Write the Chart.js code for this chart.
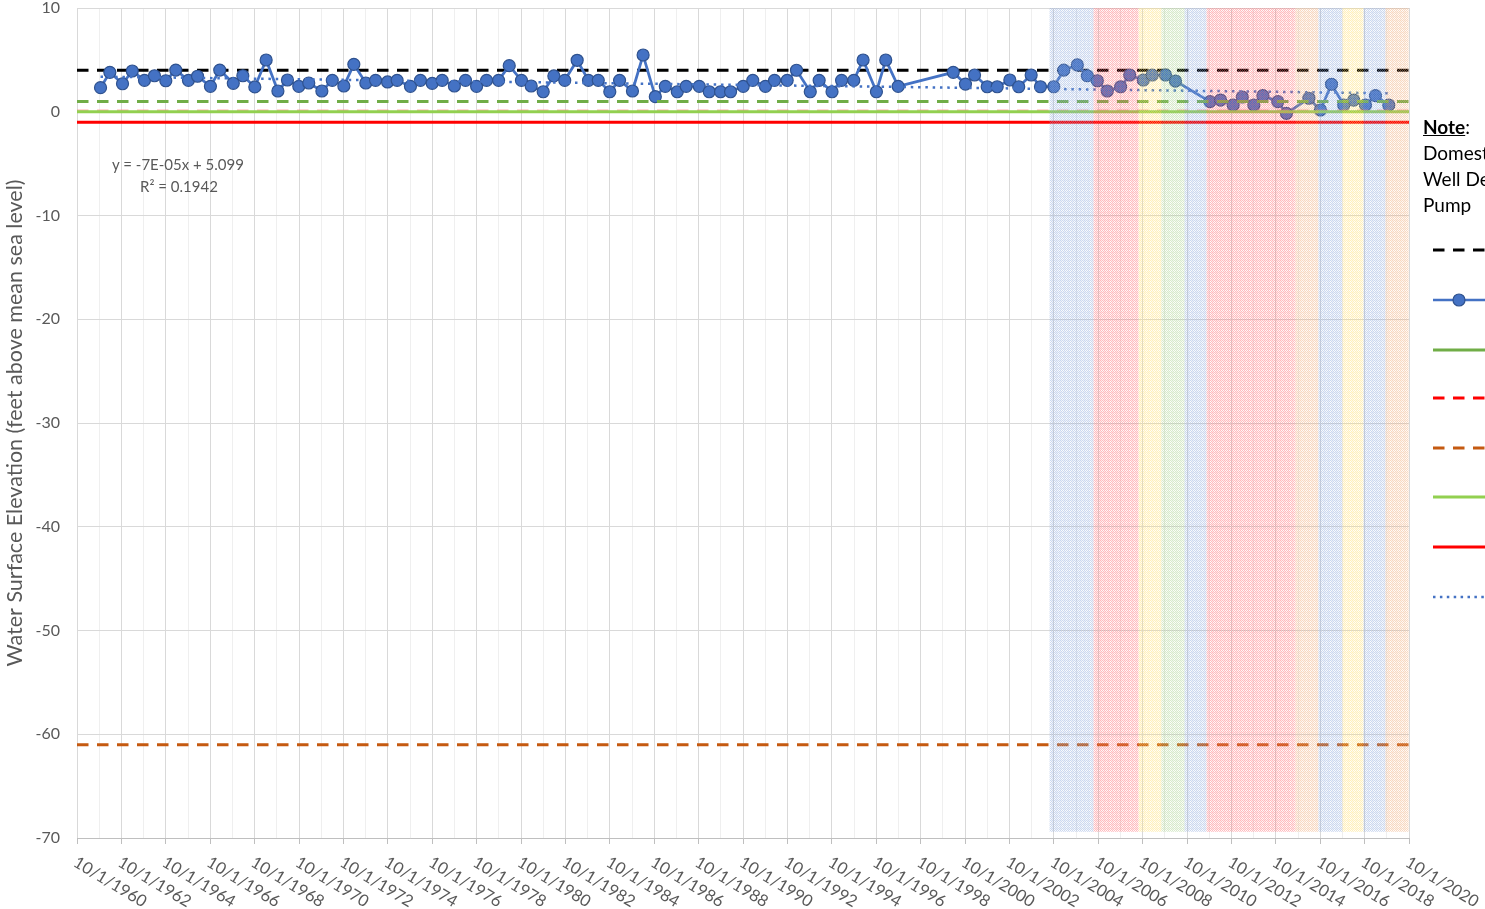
<!DOCTYPE html>
<html><head><meta charset="utf-8">
<script src="https://cdn.jsdelivr.net/npm/chart.js@4.4.1/dist/chart.umd.min.js"></script>
<style>
html,body{margin:0;padding:0;background:#fff;overflow:hidden;}
#wrap{position:relative;width:1485px;height:909px;overflow:hidden;background:#fff;}
#c{position:absolute;left:0;top:0;}
.t{position:absolute;font-family:Lato,'Liberation Sans',sans-serif;color:#595959;white-space:nowrap;font-size:15px;transform:translateX(-50%);}
.note{position:absolute;left:1423px;font-family:Lato,'Liberation Sans',sans-serif;color:#000;font-size:19px;white-space:nowrap;line-height:26px;}
</style></head><body>
<div id="wrap">
<canvas id="c" width="1485" height="909"></canvas>
<div class="t" style="left:178px;top:155px;">y = -7E-05x + 5.099</div>
<div class="t" style="left:179px;top:177px;">R² = 0.1942</div>
<div class="note" style="top:114px;"><b><u>Note</u></b>:</div>
<div class="note" style="top:140px;">Domestic</div>
<div class="note" style="top:166px;">Well Depth</div>
<div class="note" style="top:192px;">Pump</div>
</div>
<script>
// ---------------- DATA ----------------
const sampleYears = [
1961.81,1962.23,1962.80,1963.24,1963.79,1964.24,1964.75,1965.20,1965.77,1966.18,
1966.76,1967.18,1967.79,1968.22,1968.76,1969.27,1969.80,1970.23,1970.74,1971.19,
1971.78,1972.25,1972.77,1973.22,1973.76,1974.20,1974.74,1975.17,1975.77,1976.22,
1976.75,1977.20,1977.75,1978.25,1978.75,1979.20,1979.74,1980.22,1980.77,1981.21,
1981.75,1982.23,1982.72,1983.28,1983.79,1984.23,1984.75,1985.19,1985.77,1986.25,
1986.80,1987.25,1987.79,1988.19,1988.78,1989.23,1989.74,1990.19,1990.76,1991.19,
1991.76,1992.17,1992.74,1993.16,1993.78,1994.18,1994.76,1995.19,1995.74,1996.16,
1996.76,1997.18,1997.74,2000.22,2000.77,2001.18,2001.75,2002.20,2002.77,2003.17,
2003.73,2004.15,2004.75,2005.20,2005.81,2006.26,2006.71,2007.16,2007.76,2008.17,
2008.78,2009.18,2009.78,2010.23,2011.78,2012.26,2012.83,2013.24,2013.76,2014.17,
2014.84,2015.23,2016.24,2016.76,2017.26,2017.81,2018.26,2018.79,2019.24,2019.84];
const waterLevels = [
2.32,3.80,2.70,3.93,3.03,3.47,2.99,4.02,3.03,3.42,
2.45,4.02,2.74,3.47,2.39,4.99,2.00,3.06,2.45,2.77,
2.00,3.03,2.48,4.57,2.77,3.03,2.87,3.03,2.45,3.03,
2.74,3.03,2.48,3.03,2.45,3.03,3.03,4.44,3.03,2.48,
1.93,3.45,3.03,4.96,3.03,3.03,1.93,3.03,2.00,5.47,
1.45,2.45,1.93,2.45,2.45,1.93,1.93,1.93,2.45,3.03,
2.45,3.03,3.03,4.00,1.93,3.03,1.93,3.03,3.03,4.99,
1.93,4.99,2.45,3.80,2.67,3.54,2.41,2.41,3.06,2.41,
3.54,2.41,2.41,4.02,4.51,3.47,2.99,2.00,2.41,3.54,
3.06,3.54,3.54,2.96,0.97,1.13,0.65,1.42,0.65,1.55,
0.97,-0.15,1.30,0.17,2.65,0.65,1.13,0.65,1.55,0.65];
const trendYears = [1961.81, 2019.84];
const trendValues = [3.38, 1.78];
const refLevelBlackDashed = 4.0;
const refLevelGreenDashed = 1.0;
const refLevelRedDashed = 0.1;
const refLevelLightGreen = 0.0;
const refLevelRedSolid = -1.0;
const refLevelOrangeDashed = -61.0;
const bandStartYears = [2004.56,2006.54,2008.57,2009.60,2010.64,2011.63,2015.64,2016.67,2017.75,2018.70,2019.69];
const bandEndYears   = [2006.54,2008.57,2009.60,2010.64,2011.63,2015.64,2016.67,2017.75,2018.70,2019.69,2020.73];
const bandKinds      = ['blue','red','yellow','green','blue','red','orange','blue','yellow','blue','orange'];
const bandTopValue = 10;
const bandBottomValue = -69.4;
const xMin = 1960.75, xMax = 2020.75;
const yMin = -70, yMax = 10;
const xTickLabels = ['10/1/1960','10/1/1962','10/1/1964','10/1/1966','10/1/1968','10/1/1970','10/1/1972','10/1/1974','10/1/1976','10/1/1978','10/1/1980','10/1/1982','10/1/1984','10/1/1986','10/1/1988','10/1/1990','10/1/1992','10/1/1994','10/1/1996','10/1/1998','10/1/2000','10/1/2002','10/1/2004','10/1/2006','10/1/2008','10/1/2010','10/1/2012','10/1/2014','10/1/2016','10/1/2018','10/1/2020'];
const xTickYears = [1960.75,1962.75,1964.75,1966.75,1968.75,1970.75,1972.75,1974.75,1976.75,1978.75,1980.75,1982.75,1984.75,1986.75,1988.75,1990.75,1992.75,1994.75,1996.75,1998.75,2000.75,2002.75,2004.75,2006.75,2008.75,2010.75,2012.75,2014.75,2016.75,2018.75,2020.75];

// ---------------- STYLE ----------------
const FONT = "Lato, 'Liberation Sans', sans-serif";
const bandColorMap = {blue:[143,170,220], red:[255,110,115], yellow:[255,222,110], green:[169,209,142], orange:[240,170,120]};
function makePattern(ctx, rgb){
  const t = document.createElement('canvas'); t.width = 4; t.height = 4;
  const c = t.getContext('2d');
  const [r,g,b] = rgb;
  for(let y=0;y<4;y++) for(let x=0;x<4;x++){
    const a = ((x+y)%2===0) ? 0.46 : (((x%4===0)||(y%4===0)) ? 0.18 : 0.05);
    c.fillStyle = `rgba(${r},${g},${b},${a})`; c.fillRect(x,y,1,1);
  }
  return ctx.createPattern(t,'repeat');
}
function flat(level){ return [{x:xMin,y:level},{x:xMax,y:level}]; }
const DASH = [11.5, 8.5];

const overlay = {
  id:'overlay',
  afterDatasetsDraw(chart){
    const ctx = chart.ctx, xs = chart.scales.x, ys = chart.scales.y;
    ctx.save();
    const yT = ys.getPixelForValue(bandTopValue), yB = ys.getPixelForValue(bandBottomValue);
    for(let i=0;i<bandStartYears.length;i++){
      const x1 = xs.getPixelForValue(bandStartYears[i]), x2 = xs.getPixelForValue(bandEndYears[i]);
      ctx.fillStyle = makePattern(ctx, bandColorMap[bandKinds[i]]);
      ctx.fillRect(x1, yT, x2-x1, yB-yT);
    }
    ctx.restore();
  },
  afterDraw(chart){
    const ctx = chart.ctx, xs = chart.scales.x;
    ctx.save();
    ctx.fillStyle = '#595959';
    ctx.font = '16.5px ' + FONT;
    ctx.textAlign = 'left'; ctx.textBaseline = 'middle';
    for(let i=0;i<xTickLabels.length;i++){
      const px = xs.getPixelForValue(xTickYears[i]);
      ctx.save();
      ctx.translate(px - 2, 861);
      ctx.rotate(31*Math.PI/180);
      ctx.fillText(xTickLabels[i], 0, 0);
      ctx.restore();
    }
    // legend samples (cut by the page edge)
    const lx1 = 1433, lx2 = 1500;
    const items = [
      {y:250,c:'#000000',d:DASH,w:3},
      {y:300,c:'#4472C4',d:[],w:2.5,m:true},
      {y:350,c:'#70AD47',d:[],w:3},
      {y:398,c:'#FF0000',d:DASH,w:3},
      {y:448,c:'#C55A11',d:DASH,w:3},
      {y:497,c:'#92D050',d:[],w:3},
      {y:547,c:'#FF0000',d:[],w:3},
      {y:597,c:'#4472C4',d:[2.5,4.4],w:2.5}
    ];
    items.forEach(it=>{
      ctx.beginPath(); ctx.setLineDash(it.d); ctx.lineWidth = it.w; ctx.strokeStyle = it.c;
      ctx.moveTo(lx1, it.y); ctx.lineTo(lx2, it.y); ctx.stroke();
      if(it.m){ ctx.setLineDash([]); ctx.beginPath(); ctx.arc(1459, it.y, 6, 0, Math.PI*2);
        ctx.fillStyle='#4472C4'; ctx.fill(); ctx.lineWidth=1.2; ctx.strokeStyle='#2F528F'; ctx.stroke(); }
    });
    ctx.restore();
  }
};

new Chart(document.getElementById('c'), {
  type:'line',
  data:{ datasets:[
    {label:'Trend', data: trendYears.map((x,i)=>({x, y:trendValues[i]})), borderColor:'#4472C4', borderWidth:2.5, borderDash:[2.5,4.8], pointRadius:0, order:1},
    {label:'Red solid', data: flat(refLevelRedSolid), borderColor:'#FF0000', borderWidth:3, pointRadius:0, order:2},
    {label:'Light green', data: flat(refLevelLightGreen), borderColor:'#92D050', borderWidth:3, pointRadius:0, order:3},
    {label:'Orange dashed', data: flat(refLevelOrangeDashed), borderColor:'#C55A11', borderWidth:3, borderDash:DASH, pointRadius:0, order:4},
    {label:'Red dashed', data: flat(refLevelRedDashed), borderColor:'rgba(255,120,120,0.6)', borderWidth:2.5, borderDash:DASH, pointRadius:0, order:5},
    {label:'Green dashed', data: flat(refLevelGreenDashed), borderColor:'#70AD47', borderWidth:3, borderDash:DASH, pointRadius:0, order:6},
    {label:'Water level', data: sampleYears.map((x,i)=>({x, y:waterLevels[i]})), borderColor:'#4472C4', borderWidth:2.75,
      pointRadius:6, pointBackgroundColor:'#4472C4', pointBorderColor:'#2F528F', pointBorderWidth:1.2, order:7},
    {label:'Black dashed', data: flat(refLevelBlackDashed), borderColor:'#000000', borderWidth:3, borderDash:DASH, pointRadius:0, order:8}
  ]},
  options:{
    responsive:false, animation:false, events:[],
    layout:{padding:{top:8,right:76,bottom:0,left:0}},
    plugins:{legend:{display:false}, tooltip:{enabled:false}},
    elements:{line:{tension:0, borderCapStyle:'butt'}},
    scales:{
      x:{type:'linear', min:xMin, max:xMax,
        afterBuildTicks:(s)=>{ const t=[]; for(let k=0;k<=60;k++) t.push({value:xMin+k}); s.ticks=t; },
        afterFit:(s)=>{ s.height = 71; },
        ticks:{display:false, autoSkip:false},
        grid:{color:(c)=> (c.index%2===0 ? '#D9D9D9' : '#EFEFEF'), tickColor:(c)=> (c.index%2===0 ? '#BFBFBF' : 'rgba(0,0,0,0)'), tickLength:6, lineWidth:1},
        border:{color:'#BFBFBF', width:1}
      },
      y:{min:yMin, max:yMax,
        afterFit:(s)=>{ s.width = 77; },
        ticks:{stepSize:10, color:'#595959', font:{family:FONT, size:16, lineHeight:0.9}, padding:0},
        grid:{color:'#D9D9D9', drawTicks:true, tickLength:17, tickColor:'rgba(0,0,0,0)', lineWidth:1},
        border:{display:false},
        title:{display:true, text:'Water Surface Elevation (feet above mean sea level)', color:'#595959', font:{family:FONT, size:21.5}, padding:{top:2,bottom:0}}
      }
    }
  },
  plugins:[overlay]
});
</script>
</body></html>
